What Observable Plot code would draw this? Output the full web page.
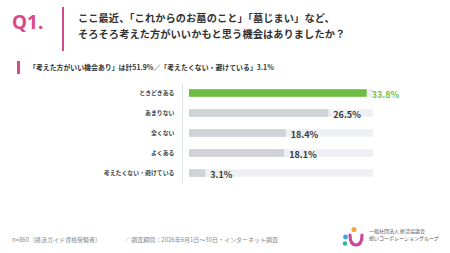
<!DOCTYPE html>
<html lang="ja">
<head>
<meta charset="utf-8">
<script src="https://cdn.jsdelivr.net/npm/d3@7"></script>
<script src="https://cdn.jsdelivr.net/npm/@observablehq/plot@0.6"></script>
<style>
  html, body { margin: 0; padding: 0; background: #ffffff; }
  body { width: 450px; height: 253px; overflow: hidden; position: relative; font-family: "Noto Sans CJK JP", "Noto Sans", sans-serif; }
  .abs { position: absolute; white-space: nowrap; }
  #q { left: 12px; top: 13px; font-size: 19px; font-weight: 700; color: #d9498a; line-height: 1; font-family: "Noto Sans", "Open Sans", sans-serif; }
  #qline { left: 62px; top: 7px; width: 2px; height: 44px; background: #d9498a; }
  #title { left: 78px; top: 10px; font-size: 10.2px; font-weight: 700; color: #333; line-height: 15.5px; letter-spacing: 0.1px; }
  #subbar { left: 17px; top: 61px; width: 3px; height: 13px; background: #d9498a; }
  #sub { left: 29px; top: 62px; font-size: 6.9px; font-weight: 700; color: #333; line-height: 10px; }
  #chart { left: 0; top: 80px; }
  .foot { top: 236px; font-size: 6px; color: #8a8a8a; line-height: 8px; }
  #logo { left: 342px; top: 226px; width: 24px; height: 22px; }
  #logotext { left: 369px; top: 228px; font-size: 5px; color: #555; line-height: 6.5px; }
</style>
</head>
<body>
<div id="q" class="abs"></div>
<div id="qline" class="abs"></div>
<div id="title" class="abs"></div>
<div id="subbar" class="abs"></div>
<div id="sub" class="abs"></div>
<div id="chart" class="abs"></div>
<div id="foot1" class="abs foot"></div>
<div id="foot2" class="abs foot"></div>
<svg id="logo" class="abs" viewBox="0 0 24 22">
  <circle cx="12" cy="3.5" r="2.6" fill="#f2a93b"/>
  <circle cx="3.5" cy="11" r="2.4" fill="#3aa6dc"/>
  <circle cx="3" cy="17.5" r="2.2" fill="#2bb59a"/>
  <path d="M8 9 Q8 19 14 19 Q20 19 20 9" fill="none" stroke="#c8489b" stroke-width="3.2" stroke-linecap="round"/>
</svg>
<div id="logotext" class="abs"></div>
<script>
// ---- text content ----
const questionNo = "Q1.";
const titleLines = ["ここ最近、「これからのお墓のこと」「墓じまい」など、", "そろそろ考えた方がいいかもと思う機会はありましたか？"];
const subtitle = "「考えた方がいい機会あり」は計51.9%／「考えたくない・避けている」3.1%";
const footNote1 = "n=860（終活ガイド資格受験者）";
const footNote2 = "／  調査期間：2026年6月1日〜30日・インターネット調査";
const logoLines = ["一般社団法人 終活協議会", "想いコーポレーショングループ"];

// ---- data ----
const categories = ["ときどきある", "あまりない", "全くない", "よくある", "考えたくない・避けている"];
const values = [33.8, 26.5, 18.4, 18.1, 3.1];
const highlighted = ["ときどきある"];
const axisMax = 35;

document.getElementById("q").textContent = questionNo;
document.getElementById("title").innerHTML = titleLines.join("<br>");
document.getElementById("sub").textContent = subtitle;
document.getElementById("foot1").textContent = footNote1;
document.getElementById("foot2").textContent = footNote2;
document.getElementById("logotext").innerHTML = logoLines.join("<br>");
document.getElementById("foot1").style.left = "12px";
document.getElementById("foot2").style.left = "124px";

const data = categories.map((c, i) => ({
  category: c,
  value: values[i],
  group: highlighted.includes(c) ? "top" : "other"
}));
const tracks = categories.map(c => ({category: c, value: axisMax}));

const green = "#6fbe44", gray = "#cfd2d6", track = "#eef0f3";

const chart = Plot.plot({
  width: 450,
  height: 110,
  marginLeft: 189,
  marginRight: 77,
  marginTop: 3,
  marginBottom: 7,
  style: {fontFamily: '"Noto Sans CJK JP", "Noto Sans", sans-serif', background: "transparent"},
  x: {domain: [0, axisMax], axis: null},
  y: {domain: categories, padding: 0, axis: null},
  color: {domain: ["top", "other"], range: [green, gray]},
  marks: [
    Plot.ruleX([0], {dx: -7, stroke: "#dfe5ec", strokeWidth: 1}),
    Plot.barX(tracks, {x: "value", y: "category", fill: track, insetTop: 6.2, insetBottom: 6.2}),
    Plot.barX(data, {x: "value", y: "category", fill: "group", insetTop: 6.2, insetBottom: 6.2}),
    Plot.text(data, {
      x: "value", y: "category", text: d => d.value.toFixed(1) + "%",
      dx: 4.5, dy: 2, textAnchor: "start", fontSize: 9, fontWeight: 700,
      fill: d => d.group === "top" ? green : "#3a3a3a"
    }),
    Plot.axisY({tickSize: 0, tickPadding: 15, fontSize: 5.9, fontWeight: 700, fill: "#444", label: null})
  ]
});
document.getElementById("chart").appendChild(chart);
</script>
</body>
</html>
